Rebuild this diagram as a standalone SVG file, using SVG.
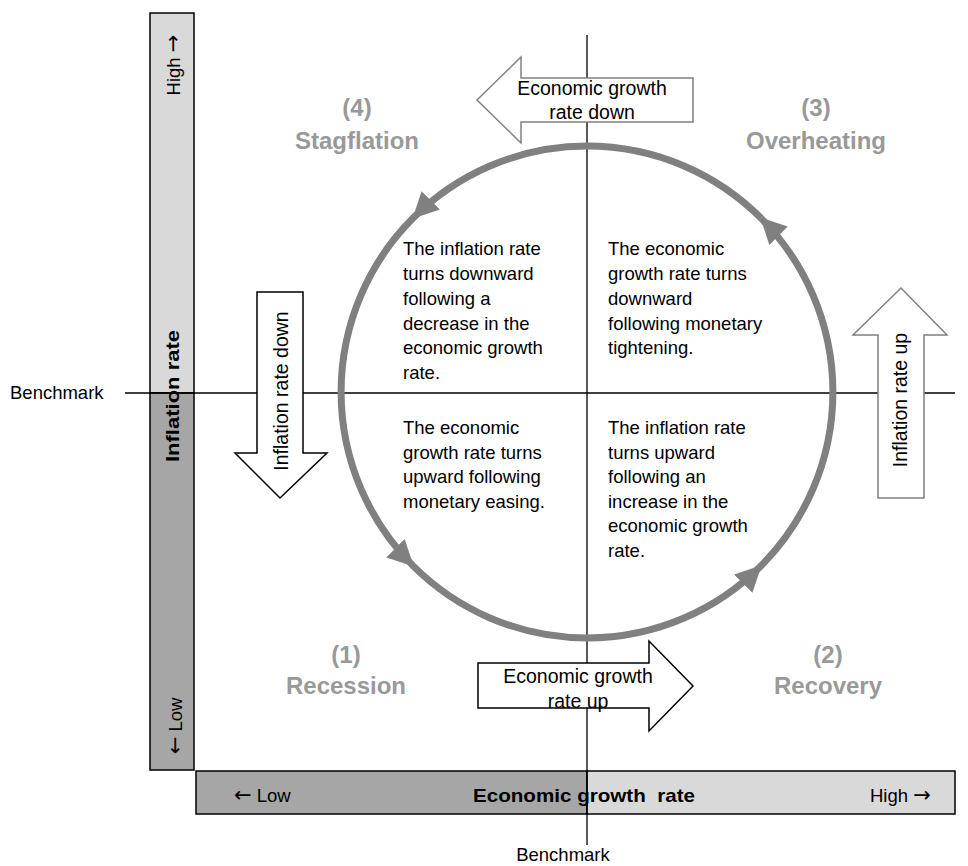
<svg xmlns="http://www.w3.org/2000/svg" width="968" height="866" viewBox="0 0 968 866">
<style>
.t{font-family:"Liberation Sans",Arial,sans-serif;font-size:18.5px;fill:#000}
.a{font-family:"Liberation Sans",Arial,sans-serif;font-size:19.5px;fill:#000;text-anchor:middle}
.q{font-family:"Liberation Sans",Arial,sans-serif;font-size:24px;font-weight:bold;fill:#999999;text-anchor:middle}
.b{font-family:"Liberation Sans",Arial,sans-serif;font-size:19px;font-weight:bold;fill:#000}
.ar2{font-family:"DejaVu Sans",sans-serif;font-size:21px}
.m{text-anchor:middle}
.ln{stroke:#000;stroke-width:1.3;fill:none}
.bar{stroke:#000;stroke-width:1.5}
.ar{fill:#fff;stroke-width:1.5}
</style>
<defs>
<marker id="ah" markerUnits="userSpaceOnUse" markerWidth="28" markerHeight="28" refX="25" refY="13" orient="auto">
<path d="M0,0 L26,13 L0,26 Z" fill="#808080"/>
</marker>
</defs>
<g id="inflation-axis">
<rect class="bar" x="150" y="13" width="44" height="380" fill="#d9d9d9"/>
<rect class="bar" x="150" y="393" width="44" height="377" fill="#a6a6a6"/>
<text class="t" transform="translate(180,65) rotate(-90)" text-anchor="middle">High <tspan class="ar2">→</tspan></text>
<text class="t" transform="translate(182,726) rotate(-90)" text-anchor="middle"><tspan class="ar2">←</tspan> Low</text>
<text class="b" transform="translate(179,396) rotate(-90)" text-anchor="middle" textLength="132" lengthAdjust="spacingAndGlyphs">Inflation rate</text>
</g>
<g id="growth-axis">
<rect class="bar" x="196" y="771" width="391" height="43" fill="#a6a6a6"/>
<rect class="bar" x="587" y="771" width="368" height="43" fill="#d9d9d9"/>
<text class="t" x="234" y="802"><tspan class="ar2">←</tspan> Low</text>
<text class="b" x="473" y="802" xml:space="preserve" textLength="222" lengthAdjust="spacingAndGlyphs">Economic growth  rate</text>
<text class="t" x="870" y="802">High <tspan class="ar2">→</tspan></text>
</g>
<g id="connectors">
<line class="ln" x1="125" y1="393" x2="955" y2="393"/>
<line class="ln" x1="587" y1="35" x2="587" y2="845"/>
<path d="M760.9,218.1 A246,246 0 0 0 413.1,218.1 A246,246 0 0 0 413.1,565.9 A246,246 0 0 0 760.9,565.9 A246,246 0 0 0 760.9,218.1" fill="none" stroke="#808080" stroke-width="7" marker-mid="url(#ah)" marker-end="url(#ah)"/>
</g>
<g id="benchmark-labels">
<text class="t" x="10" y="399" font-size="19.5">Benchmark</text>
<text class="t m" x="563" y="861" font-size="19">Benchmark</text>
</g>
<g id="q4">
<text class="q" x="357" y="116">(4)</text>
<text class="q" x="357" y="149">Stagflation</text>
</g>
<g id="q3">
<text class="q" x="816" y="116">(3)</text>
<text class="q" x="816" y="149">Overheating</text>
</g>
<g id="q1">
<text class="q" x="346" y="663">(1)</text>
<text class="q" x="346" y="694">Recession</text>
</g>
<g id="q2">
<text class="q" x="828" y="663">(2)</text>
<text class="q" x="828" y="694">Recovery</text>
</g>
<g id="text-tl">
<text class="t" x="403" y="255">The inflation rate</text>
<text class="t" x="403" y="280">turns downward</text>
<text class="t" x="403" y="305">following a</text>
<text class="t" x="403" y="330">decrease in the</text>
<text class="t" x="403" y="354">economic growth</text>
<text class="t" x="403" y="379">rate.</text>
</g>
<g id="text-tr">
<text class="t" x="608" y="255">The economic</text>
<text class="t" x="608" y="280">growth rate turns</text>
<text class="t" x="608" y="305">downward</text>
<text class="t" x="608" y="330">following monetary</text>
<text class="t" x="608" y="354">tightening.</text>
</g>
<g id="text-bl">
<text class="t" x="403" y="434">The economic</text>
<text class="t" x="403" y="459">growth rate turns</text>
<text class="t" x="403" y="483">upward following</text>
<text class="t" x="403" y="508">monetary easing.</text>
</g>
<g id="text-br">
<text class="t" x="608" y="434">The inflation rate</text>
<text class="t" x="608" y="459">turns upward</text>
<text class="t" x="608" y="483">following an</text>
<text class="t" x="608" y="508">increase in the</text>
<text class="t" x="608" y="532">economic growth</text>
<text class="t" x="608" y="557">rate.</text>
</g>
<g id="arrow-growth-down">
<polygon class="ar" stroke="#808080" points="477,100 521,57 521,78 693,78 693,122 521,122 521,143"/>
<text class="a" x="592" y="95">Economic growth</text>
<text class="a" x="592" y="119">rate down</text>
</g>
<g id="arrow-growth-up">
<polygon class="ar" stroke="#000" points="478,663 649,663 649,641 693,686 649,731 649,708 478,708"/>
<text class="a" x="578" y="683">Economic growth</text>
<text class="a" x="578" y="708">rate up</text>
</g>
<g id="arrow-inflation-down">
<polygon class="ar" stroke="#000" points="257,292 303,292 303,453 327,453 280,498 235,453 257,453"/>
<text class="a" transform="translate(288,391) rotate(-90)">Inflation rate down</text>
</g>
<g id="arrow-inflation-up">
<polygon class="ar" stroke="#808080" points="878,498 878,335 853,335 901,288 947,335 924,335 924,498"/>
<text class="a" transform="translate(907,400) rotate(-90)">Inflation rate up</text>
</g>
</svg>
